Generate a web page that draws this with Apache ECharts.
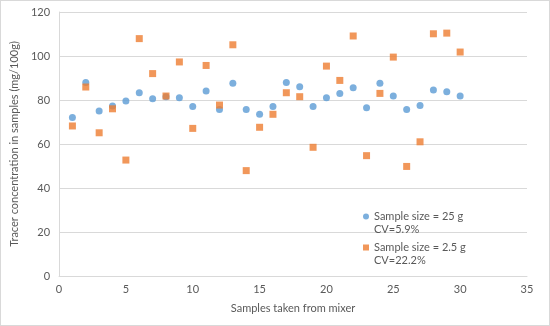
<!DOCTYPE html>
<html>
<head>
<meta charset="utf-8">
<script src="https://cdn.jsdelivr.net/npm/echarts@6/dist/echarts.min.js"></script>
<style>
  html, body { margin: 0; padding: 0; background: #fff; }
  #chart { width: 548px; height: 324px; border: 1px solid #d9d9d9; }
</style>
</head>
<body>
<div id="chart"></div>
<script>
// Sample index (1..30) and tracer concentration (mg/100g) per sample size
const sampleIndex = [1,2,3,4,5,6,7,8,9,10,11,12,13,14,15,16,17,18,19,20,21,22,23,24,25,26,27,28,29,30];
const conc25g = [72.0,87.9,75.0,77.3,79.5,83.3,80.6,81.5,81.0,77.0,84.1,75.7,87.6,75.7,73.5,77.0,87.9,86.0,77.0,81.0,83.0,85.6,76.5,87.6,81.8,75.7,77.5,84.5,83.8,81.8];
const conc2_5g = [68.2,85.9,65.1,76.0,52.7,107.9,92.0,81.8,97.3,67.1,95.7,77.7,105.1,47.9,67.6,73.5,83.3,81.5,58.5,95.4,88.9,109.1,54.7,83.0,99.5,49.8,61.0,110.1,110.4,101.8];
const seriesNames = ['Sample size = 25 g\nCV=5.9%', 'Sample size = 2.5 g\nCV=22.2%'];
const xTicks = { min: 0, max: 35, interval: 5 };
const yTicks = { min: 0, max: 120, interval: 20 };

const FONT = 'Lato, "Liberation Sans", sans-serif';
const TXT = '#595959';
const GRID = '#d9d9d9';

const pairs = (xs, ys) => xs.map((x, i) => [x, ys[i]]);

const chart = echarts.init(document.getElementById('chart'), null, { renderer: 'canvas' });

// A blank leading line keeps the marker level with the first text line
const legendItem = (name, top) => ({
  data: [name], orient: 'vertical', left: 357, top: top, padding: 5,
  itemWidth: 6, itemHeight: 6, itemGap: 0,
  formatter: n => '\n' + n,
  textStyle: { color: TXT, fontFamily: FONT, fontSize: 11, lineHeight: 13 }
});

chart.setOption({
  animation: false,
  backgroundColor: '#fff',
  textStyle: { fontFamily: FONT },
  grid: { left: 48, right: 22, top: 11, bottom: 49 },
  legend: [legendItem(seriesNames[0], 191), legendItem(seriesNames[1], 222)],
  xAxis: {
    type: 'value', min: xTicks.min, max: xTicks.max, interval: xTicks.interval,
    name: 'Samples taken from mixer', nameLocation: 'middle', nameGap: 27,
    nameTextStyle: { color: TXT, fontSize: 11, fontFamily: FONT },
    axisLine: { show: true, lineStyle: { color: GRID } },
    axisTick: { show: false },
    splitLine: { show: false },
    axisLabel: { color: TXT, fontSize: 11, margin: 8, fontFamily: FONT }
  },
  yAxis: {
    type: 'value', min: yTicks.min, max: yTicks.max, interval: yTicks.interval,
    name: 'Tracer concentration in samples (mg/100g)', nameLocation: 'middle', nameGap: 24,
    nameTextStyle: { color: TXT, fontSize: 11, fontFamily: FONT },
    axisLine: { show: true, lineStyle: { color: GRID } },
    axisTick: { show: false },
    splitLine: { show: true, lineStyle: { color: GRID } },
    axisLabel: { color: TXT, fontSize: 11, margin: 9, fontFamily: FONT }
  },
  series: [
    {
      name: seriesNames[0], type: 'scatter', symbol: 'circle', symbolSize: 7,
      itemStyle: { color: '#5b9bd5' },
      data: pairs(sampleIndex, conc25g)
    },
    {
      name: seriesNames[1], type: 'scatter', symbol: 'rect', symbolSize: 7,
      itemStyle: { color: '#ed7d31' },
      data: pairs(sampleIndex, conc2_5g)
    }
  ]
});
</script>
</body>
</html>
